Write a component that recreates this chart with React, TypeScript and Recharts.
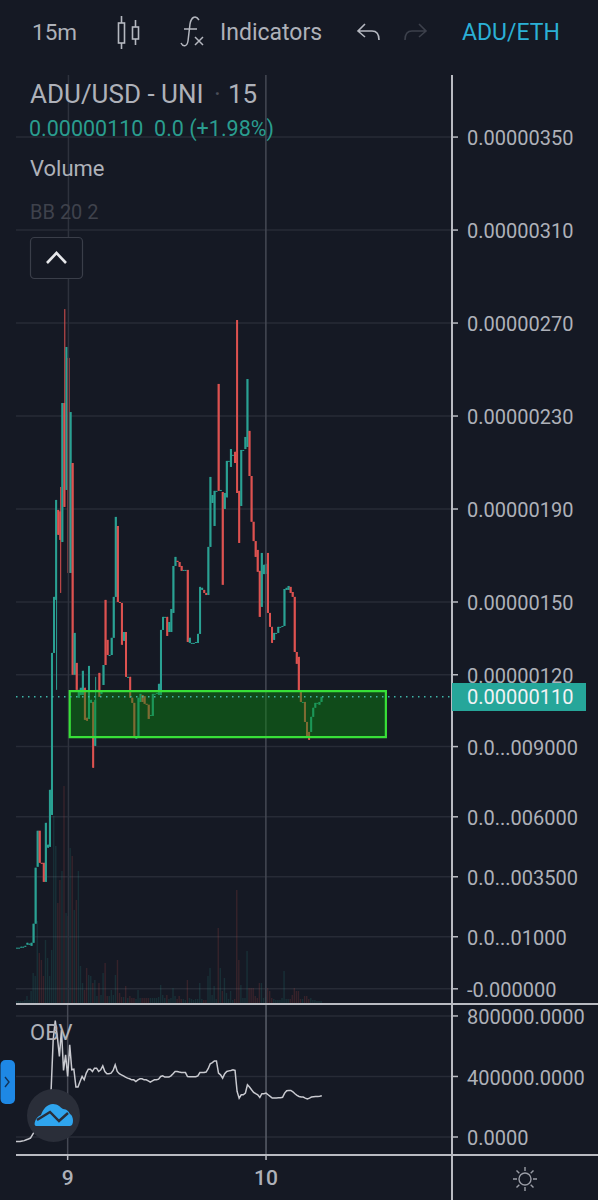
import React from "react";
import { ComposedChart, Bar, Line, XAxis, YAxis, CartesianGrid, ReferenceLine, ReferenceArea } from "recharts";

// prices in units of 1e-8 USD, volumes and OBV in thousands
const candleOpen = [1.3,1.3,1.5,1.5,1.7,2.6,2.6,2.1,3.4,11.6,36.1,51.6,37.8,37.8,29.6,44.3,44.7,58.4,128.1,150.9,189.6,189,175.8,235.6,198.2,255,162.5,209.8,118.7,123.8,108.8,110,110,113.1,100.2,99.7,106.6,107,88.1,112.2,119.5,110.4,114.3,150.9,133.7,127.2,127.2,134.6,152.2,182.7,150,149.6,133.3,137.1,117.8,117.8,108.8,106.6,91.6,91.6,107,110,109.5,106.2,105.8,101,101,110.5,110.5,110,110,138,143.6,143.6,137.1,137.1,145.3,165.5,167.7,167.2,165.5,163.8,163.8,163.8,132.4,132.4,132.4,132.4,132.4,136.3,155.2,155.2,153.9,153,173.7,192.6,182.7,197.8,243.8,197.8,197.3,190,195,210.7,208.1,213.3,214.6,271.3,197.8,191.3,215.4,215.8,216.7,223.6,204.2,184.5,176.2,172.4,163.4,147.9,162,162.1,171.1,145.3,139.3,133.7,136.7,136.7,139.3,139.3,139.7,155.2,155.2,156.5,154.3,152.2,128.5,126.4,111.3,107,107,98.4,94.1,94.1,100.6,104.5,106.6,105.8,107];
const candleClose = [1.3,1.3,1.7,1.7,2.1,3.4,3,3.4,11.6,35.7,51.6,37.8,37.4,29.6,55,45.6,69.2,128.1,152.2,193.9,178.9,176.7,235.6,190.9,259.7,162.5,231.7,118.7,136.7,112.2,112.2,113.1,120.4,99.3,98.9,122.5,107.9,78.7,107.9,112.2,109.2,111.3,122.9,122.9,127.2,127.2,134.6,152.2,186.6,150,149.6,131.6,137.1,117.8,117.8,108.8,106.6,91.6,91.6,108.8,110.5,107,106.2,105.8,99.7,101.4,110.5,110.5,110.9,114.8,138,143.6,143.6,135.4,141.4,147,165.5,169.4,167.2,165.1,163.4,163.8,163.8,132.8,134.6,132.4,132.4,132.8,136.3,156.5,156.1,153.9,153,173.7,203.8,196,197.8,197.8,197.8,198.2,157.4,196.9,210.7,210.7,215.8,213.3,209.8,196.9,175.4,215.4,215.4,221,245.9,204.2,184.5,176.2,169.4,163,143.6,171.1,166,166.4,145.3,139.3,132.4,136.7,136.7,139.3,139.3,139.7,155.6,156.1,156.9,153.9,152.2,128.5,123.4,111.3,107,107,98.4,91.6,90.7,100.6,104.5,106.6,106.6,107,109.2];
const wickHighs: Record<number, number> = { 19: 193.9, 21: 199.5, 23: 276, 38: 117.8 };
const wickLows: Record<number, number> = { 19: 112.2, 21: 153.9 };
const volumes = [2,2,2,2,3,7,3,12,30,27,82,50,43,27,63,45,27,53,187,157,100,123,132,217,90,87,155,147,93,103,132,37,20,13,35,28,27,20,23,7,20,8,30,40,7,7,13,8,28,43,10,6,6,17,5,7,5,5,4,13,5,5,5,5,5,5,5,5,5,6,18,8,5,8,4,5,15,7,4,7,4,4,3,23,5,4,3,4,4,20,4,3,3,27,35,8,17,4,75,35,12,25,10,4,12,3,4,113,43,18,5,5,52,15,15,15,7,5,20,20,5,6,15,12,5,4,3,3,3,5,32,4,4,4,8,15,12,12,4,4,7,7,4,5,3,3,2,2,2];
const obvValues = [-29,-29,-29,-26,-24,-18,-13,-7,15,37,59,70,81,92,114,158,180,312,642,769,664,532,708,440,543,400,609,444,448,330,330,367,400,378,422,448,448,433,455,455,433,444,470,433,418,418,422,440,477,433,418,411,404,396,389,385,378,378,367,378,385,385,378,378,371,363,371,378,378,382,400,404,396,396,396,404,418,433,433,429,426,426,426,400,398,398,398,398,404,426,426,426,429,451,484,492,503,503,422,411,389,418,433,437,440,444,440,301,257,279,279,290,345,330,312,295,286,279,262,286,286,290,279,268,257,257,257,259,259,262,290,306,308,308,299,286,275,268,264,264,257,251,257,264,266,268,268,270,273];

const priceTicks = [350, 310, 270, 230, 190, 150, 118.7, 87.8, 57.6, 31.8, 6, -16.4];
const priceTickLabels = ["0.00000350","0.00000310","0.00000270","0.00000230","0.00000190","0.00000150","0.00000120","0.0...009000","0.0...006000","0.0...003500","0.0...01000","-0.000000"];
const obvTicks = [0, 400, 800];
const obvTickLabels = ["0.0000", "400000.0000", "800000.0000"];
const dayIndexes = [25, 121];
const dayLabels = ["9", "10"];
const lastPrice = 109.2;
const zoneTop = 111.7;
const zoneBottom = 91.9;
const zoneStart = 26;
const zoneEnd = 179;
const totalSlots = 212;
const priceDomain = [-22.5, 376.7];

const rows = Array.from({ length: totalSlots }, (_, i) => {
  if (i >= candleOpen.length) return { idx: i };
  const open = candleOpen[i];
  const close = candleClose[i];
  return {
    idx: i,
    up: close >= open,
    body: [Math.min(open, close), Math.max(open, close)],
    wick: [wickLows[i] ?? Math.min(open, close), wickHighs[i] ?? Math.max(open, close)],
    vol: volumes[i],
    obv: obvValues[i],
  };
});

const BG = "#151924";
const TEAL = "#2aa193";
const RED = "#dd5250";
const GRID = "#272b36";
const AXIS = "#b9bbc2";
const TEXT = "#aeb1b9";
const FONT = "Roboto, sans-serif";

const candleShape = (minH: number) => (p: any) => {
  if (!p.payload || p.payload.body == null) return <g />;
  const h = Math.max(p.height, minH);
  return <rect x={p.x} y={p.y} width={p.width} height={h} fill={p.payload.up ? TEAL : RED} />;
};
const volumeShape = (p: any) => {
  if (!p.payload || p.payload.vol == null) return <g />;
  return <rect x={p.x} y={p.y} width={p.width} height={p.height} fill={p.payload.up ? TEAL : RED} fillOpacity={0.17} />;
};

const Txt = ({ x, y, size, color, children, weight }: any) => (
  <div style={{ position: "absolute", left: x, top: y, transform: "translateY(-50%)", fontSize: size, color, lineHeight: 1, whiteSpace: "pre", fontFamily: FONT, fontWeight: weight ?? 400 }}>
    {children}
  </div>
);

const Icons = () => (
  <svg width={598} height={1200} style={{ position: "absolute", left: 0, top: 0, pointerEvents: "none" }}>
    {/* candle icon */}
    <g stroke="#b5b8c0" strokeWidth={1.6} fill="none">
      <rect x={118.5} y={23} width={6} height={20} />
      <line x1={121.5} y1={16} x2={121.5} y2={23} />
      <line x1={121.5} y1={43} x2={121.5} y2={49} />
      <rect x={132.5} y={27} width={6} height={12} />
      <line x1={135.5} y1={20} x2={135.5} y2={27} />
      <line x1={135.5} y1={39} x2={135.5} y2={45} />
    </g>
    {/* fx icon */}
    <path d="M199 20 C195 14 191 18 190 24 L188 41 C187 47 183 47 181 43 M184 29 L197 29" stroke="#b5b8c0" strokeWidth={1.5} fill="none" />
    <path d="M195 37 L203 45 M203 37 L195 45" stroke="#b5b8c0" strokeWidth={1.5} />
    {/* undo / redo */}
    <path d="M365 24 L358 31 L365 37 M358 31 L372 31 C377 31 379 35 379 40" stroke="#b5b8c0" strokeWidth={1.6} fill="none" />
    <path d="M419 24 L426 31 L419 37 M426 31 L412 31 C407 31 405 35 405 40" stroke="#3c404b" strokeWidth={1.6} fill="none" />
    {/* collapse button */}
    <rect x={30.5} y={237.5} width={52} height={41} rx={4} fill={BG} stroke="#3a3e49" strokeWidth={1.2} />
    <path d="M47 263 L56.5 253 L66 263" stroke="#e6e7ea" strokeWidth={2.6} fill="none" />
    {/* side tab */}
    <rect x={0.5} y={1060} width={14.5} height={44} rx={5} fill="#1e88e5" />
    <path d="M5 1077 L9 1082 L5 1087" stroke="#12345a" strokeWidth={1.4} fill="none" />
    {/* logo */}
    <circle cx={53.5} cy={1115.5} r={26.5} fill="#2a2e39" />
    <path d="M36 1126 C33 1126 35 1117 41 1115 C43 1109 47 1104 53 1104 C58 1104 60 1107 63 1109 C67 1109 69 1112 70 1114 C74 1116 74 1126 70 1126 Z" fill="#2fa5ee" />
    <path d="M37 1120 L50 1112 L59 1121 L68 1113" stroke="#2a2e39" strokeWidth={2.4} fill="none" />
    {/* settings */}
    <circle cx={525} cy={1179} r={6} stroke="#9a9da6" strokeWidth={1.4} fill="none" />
    <path d="M525 1167 V1171 M525 1187 V1191 M513 1179 H517 M533 1179 H537 M516.5 1170.5 L519.3 1173.3 M530.7 1184.7 L533.5 1187.5 M533.5 1170.5 L530.7 1173.3 M519.3 1184.7 L516.5 1187.5" stroke="#9a9da6" strokeWidth={1.4} />
  </svg>
);

export default function App() {
  const yTick = { fill: TEXT, fontSize: 20, fontFamily: FONT, dy: 1 };
  return (
    <div style={{ position: "absolute", left: 0, top: 0, width: 598, height: 1200, background: BG, overflow: "hidden", fontFamily: FONT }}>
      <div style={{ position: "absolute", left: 0, top: 0 }}>
        <ComposedChart width={598} height={1003} data={rows} margin={{ top: 75, right: 0, bottom: 0, left: 16 }} barCategoryGap={0}>
          <XAxis xAxisId="vol" dataKey="idx" hide />
          <XAxis xAxisId="wick" dataKey="idx" hide />
          <XAxis xAxisId="body" dataKey="idx" hide />
          <YAxis
            yAxisId="price"
            orientation="right"
            width={146}
            domain={priceDomain}
            ticks={priceTicks}
            interval={0}
            allowDataOverflow
            type="number"
            axisLine={{ stroke: AXIS, strokeWidth: 2 }}
            tickLine={{ stroke: AXIS, strokeWidth: 1.5 }}
            tickSize={6}
            tickMargin={9}
            tick={{ ...yTick, textAnchor: "start" }}
            tickFormatter={(v: number) => priceTickLabels[priceTicks.indexOf(v)] ?? ""}
          />
          <YAxis yAxisId="vol" hide domain={[0, 928]} allowDataOverflow />
          <CartesianGrid xAxisId="body" yAxisId="price" vertical={false} stroke={GRID} strokeWidth={1.5} horizontalValues={priceTicks} />
          <ReferenceLine xAxisId="body" yAxisId="price" x={dayIndexes[0]} stroke="#2e323d" strokeWidth={1.5} />
          <ReferenceLine xAxisId="body" yAxisId="price" x={dayIndexes[1]} stroke="#454954" strokeWidth={1.5} />
          <Bar xAxisId="vol" yAxisId="vol" dataKey="vol" barSize={1.4} isAnimationActive={false} shape={volumeShape} />
          <Bar xAxisId="wick" yAxisId="price" dataKey="wick" barSize={1} isAnimationActive={false} shape={candleShape(0)} />
          <Bar xAxisId="body" yAxisId="price" dataKey="body" barSize={2} isAnimationActive={false} shape={candleShape(1)} />
        </ComposedChart>
      </div>

      {/* zone and last-price line sit above the candles */}
      <div style={{ position: "absolute", left: 0, top: 0 }}>
        <ComposedChart width={598} height={1003} data={rows} margin={{ top: 75, right: 146, bottom: 0, left: 16 }} style={{ background: "transparent" }}>
          <XAxis dataKey="idx" hide />
          <YAxis hide domain={priceDomain} allowDataOverflow type="number" />
          <ReferenceArea x1={zoneStart} x2={zoneEnd} y1={zoneBottom} y2={zoneTop} fill="#0c8a10" fillOpacity={0.45} stroke="#38e038" strokeWidth={2.2} ifOverflow="visible" />
          <ReferenceLine y={lastPrice} stroke="#3fb6a8" strokeWidth={1.5} strokeDasharray="1.5 4.5" />
        </ComposedChart>
      </div>

      <div style={{ position: "absolute", left: 0, top: 1004 }}>
        <ComposedChart width={598} height={196} data={rows} margin={{ top: 0, right: 0, bottom: 0, left: 16 }}>
          <XAxis
            dataKey="idx"
            ticks={dayIndexes}
            interval={0}
            height={45}
            axisLine={false}
            tickLine={{ stroke: AXIS, strokeWidth: 1.5 }}
            tickSize={5}
            tickMargin={10}
            tick={{ fill: TEXT, fontSize: 21, fontFamily: FONT, fontWeight: 500 }}
            tickFormatter={(v: number) => dayLabels[dayIndexes.indexOf(v)] ?? ""}
          />
          <YAxis
            orientation="right"
            width={146}
            domain={[-119, 879]}
            ticks={obvTicks}
            interval={0}
            allowDataOverflow
            type="number"
            axisLine={false}
            tickLine={{ stroke: AXIS, strokeWidth: 1.5 }}
            tickSize={6}
            tickMargin={9}
            tick={{ ...yTick, textAnchor: "start" }}
            tickFormatter={(v: number) => obvTickLabels[obvTicks.indexOf(v)] ?? ""}
          />
          <CartesianGrid vertical={false} stroke={GRID} strokeWidth={1.5} horizontalValues={obvTicks} />
          <ReferenceLine x={dayIndexes[0]} stroke="#454954" strokeWidth={1.5} />
          <ReferenceLine x={dayIndexes[1]} stroke="#5a5e69" strokeWidth={1.5} />
          <Line dataKey="obv" type="linear" stroke="#c9cad0" strokeWidth={1.5} dot={false} isAnimationActive={false} />
        </ComposedChart>
      </div>

      {/* pane separators */}
      <div style={{ position: "absolute", left: 16, top: 1003, width: 582, height: 2, background: AXIS }} />
      <div style={{ position: "absolute", left: 16, top: 1154, width: 582, height: 2, background: AXIS }} />
      <div style={{ position: "absolute", left: 451, top: 1003, width: 2, height: 197, background: AXIS }} />

      {/* last price tag */}
      <div style={{ position: "absolute", left: 452, top: 683, width: 134, height: 28, background: "#26a69a" }} />
      <Txt x={467} y={697} size={20} color="#f2f3f5">0.00000110</Txt>

      <Icons />

      <Txt x={32} y={32} size={22.5} color={TEXT}>15m</Txt>
      <Txt x={220} y={32} size={23} color={TEXT}>Indicators</Txt>
      <Txt x={462} y={32} size={23} color="#2bb0d6">ADU/ETH</Txt>
      <Txt x={30} y={94} size={26} color={TEXT}>ADU/USD - UNI</Txt>
      <Txt x={214} y={94} size={26} color="#4a4e59">·</Txt>
      <Txt x={228} y={94} size={26} color={TEXT}>15</Txt>
      <Txt x={29} y={129} size={21.5} color="#2a9d8f">0.00000110  0.0 (+1.98%)</Txt>
      <Txt x={30} y={169} size={22} color={TEXT}>Volume</Txt>
      <Txt x={30} y={212} size={20} color="#3f424c">BB 20 2</Txt>
      <Txt x={30} y={1033} size={22} color={TEXT}>OBV</Txt>
    </div>
  );
}
